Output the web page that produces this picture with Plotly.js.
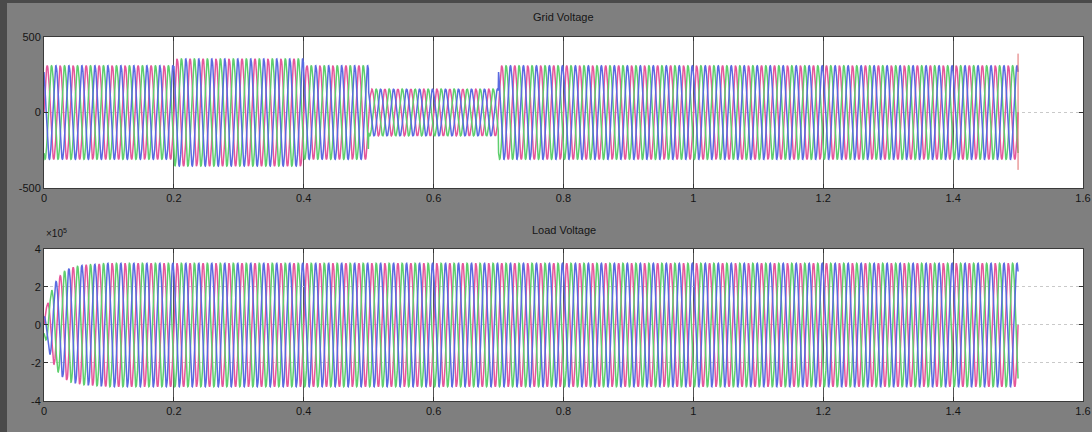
<!DOCTYPE html>
<html>
<head>
<meta charset="utf-8">
<script src="https://cdn.plot.ly/plotly-3.0.1.min.js"></script>
<style>
html,body{margin:0;padding:0;background:#4a4a4a;width:1092px;height:432px;overflow:hidden;}
#chart{position:absolute;left:7px;top:3px;width:1085px;height:429px;}
</style>
</head>
<body>
<div id="chart"></div>
<script>
// ---- data ----
const freqHz = 50;                 // supply frequency
const tEnd = 1.5;                  // simulation stop time (s)
const phaseDeg = [0, -120, 120];   // three-phase shifts
const phaseColors = ['#e5579b', '#5fcf6e', '#5a6be0'];

// Grid voltage: piecewise amplitude (V)
const gridSegStart = [0.0, 0.2, 0.4, 0.5, 0.7];
const gridSegEnd   = [0.2, 0.4, 0.5, 0.7, 1.5];
const gridSegAmp   = [310, 355, 310, 155, 310];
// switching transient at the stop time
const gridSpikeT = [1.5, 1.5];
const gridSpikeV = [-380, 390];

// Load voltage: envelope (x1e5 V)
const loadEnvT = [0.0, 0.01, 0.02, 0.03, 0.04, 0.06, 0.10, 1.5];
const loadEnvA = [0.5, 1.7, 2.4, 2.8, 3.0, 3.15, 3.25, 3.25];

// axis ticks
const xTickVals = [0, 0.2, 0.4, 0.6, 0.8, 1.0, 1.2, 1.4, 1.6];
const xTickText = ['0', '0.2', '0.4', '0.6', '0.8', '1', '1.2', '1.4', '1.6'];
const y1TickVals = [-500, 0, 500];
const y1TickText = ['-500', '0', '500'];
const y2TickVals = [-4e5, -2e5, 0, 2e5, 4e5];
const y2TickText = ['-4', '-2', '0', '2', '4'];

// ---- build traces ----
const samplesPerCycle = 40;
const nPts = Math.round(tEnd * freqHz * samplesPerCycle) + 1;
const tArr = [];
for (let i = 0; i < nPts; i++) tArr.push(i * tEnd / (nPts - 1));

function gridAmp(t) {
  for (let k = 0; k < gridSegStart.length; k++) {
    if (t >= gridSegStart[k] && t < gridSegEnd[k]) return gridSegAmp[k];
  }
  return gridSegAmp[gridSegAmp.length - 1];
}
function loadAmp(t) {
  for (let k = 0; k < loadEnvT.length - 1; k++) {
    if (t >= loadEnvT[k] && t <= loadEnvT[k + 1]) {
      const f = (t - loadEnvT[k]) / (loadEnvT[k + 1] - loadEnvT[k]);
      return (loadEnvA[k] + f * (loadEnvA[k + 1] - loadEnvA[k])) * 1e5;
    }
  }
  return loadEnvA[loadEnvA.length - 1] * 1e5;
}

const traces = [];
phaseDeg.forEach((ph, p) => {
  const phr = ph * Math.PI / 180;
  const yg = tArr.map(t => gridAmp(t) * Math.sin(2 * Math.PI * freqHz * t + phr));
  const yl = tArr.map(t => loadAmp(t) * Math.sin(2 * Math.PI * freqHz * t + phr));
  traces.push({x: tArr, y: yg, type: 'scatter', mode: 'lines', xaxis: 'x', yaxis: 'y',
    line: {color: phaseColors[p], width: 1.5}, hoverinfo: 'skip', showlegend: false});
  traces.push({x: tArr, y: yl, type: 'scatter', mode: 'lines', xaxis: 'x2', yaxis: 'y2',
    line: {color: phaseColors[p], width: 1.5}, hoverinfo: 'skip', showlegend: false});
});
traces.push({x: gridSpikeT, y: gridSpikeV, type: 'scatter', mode: 'lines', xaxis: 'x', yaxis: 'y',
  line: {color: '#e06a6a', width: 1}, hoverinfo: 'skip', showlegend: false});

const tickFont = {family: 'Liberation Sans, Arial, sans-serif', size: 11, color: '#151515'};
function xAx(anchor) {
  return {domain: [0, 1], anchor: anchor, range: [0, 1.6], tickvals: xTickVals, ticktext: xTickText,
    showgrid: true, gridcolor: '#555555', gridwidth: 1, zeroline: false,
    showline: true, linecolor: '#3a3a3a', mirror: 'ticks', ticks: 'inside', ticklen: 4,
    tickcolor: '#333', tickfont: tickFont};
}
function yAx(anchor, dom, rng, tv, tt) {
  return {domain: dom, anchor: anchor, range: rng, tickvals: tv, ticktext: tt,
    showgrid: true, gridcolor: '#c9c9c9', griddash: 'dot', gridwidth: 1, zeroline: false,
    showline: true, linecolor: '#3a3a3a', mirror: 'ticks', ticks: 'inside', ticklen: 4,
    tickcolor: '#333', tickfont: tickFont};
}

const layout = {
  width: 1085, height: 429,
  margin: {l: 37, r: 9, t: 34, b: 31},
  paper_bgcolor: '#7f7f7f', plot_bgcolor: '#ffffff',
  showlegend: false,
  xaxis: xAx('y'),
  yaxis: yAx('x', [0.5852, 1], [-500, 500], y1TickVals, y1TickText),
  xaxis2: xAx('y2'),
  yaxis2: yAx('x2', [0, 0.4176], [-4e5, 4e5], y2TickVals, y2TickText),
  annotations: [
    {text: 'Grid Voltage', xref: 'paper', yref: 'paper', x: 0.5, y: 1.055, showarrow: false,
      xanchor: 'center', yanchor: 'middle', font: {family: 'Liberation Sans, Arial, sans-serif', size: 11, color: '#151515'}},
    {text: 'Load Voltage', xref: 'paper', yref: 'paper', x: 0.5, y: 0.4698, showarrow: false,
      xanchor: 'center', yanchor: 'middle', font: {family: 'Liberation Sans, Arial, sans-serif', size: 11, color: '#151515'}},
    {text: '×10<sup>5</sup>', xref: 'paper', yref: 'paper', x: 0.0, y: 0.462, showarrow: false,
      xanchor: 'left', yanchor: 'middle', font: {family: 'Liberation Sans, Arial, sans-serif', size: 10, color: '#151515'}}
  ]
};

Plotly.newPlot('chart', traces, layout, {staticPlot: true, displayModeBar: false});
</script>
</body>
</html>
